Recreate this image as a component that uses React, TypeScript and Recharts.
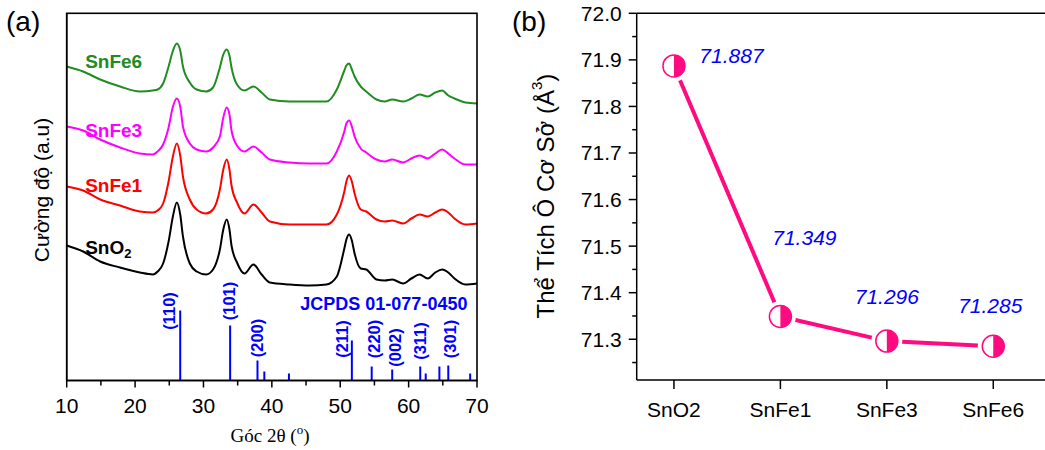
import React from 'react';
import {
  ComposedChart,
  LineChart,
  Line,
  XAxis,
  YAxis,
  ReferenceLine,
  ReferenceDot,
  LabelList,
} from 'recharts';

// ---------- Panel (a): XRD patterns ----------
const twoTheta = [10.0, 12.4, 14.9, 17.8, 20.7, 22.6, 23.3, 24.1, 24.9, 25.5, 26.1, 26.6, 27.0, 28.0, 29.0, 30.4, 31.4, 32.4, 32.9, 33.4, 33.8, 34.1, 34.9, 36.0, 37.3, 38.5, 39.7, 42.6, 45.5, 48.0, 49.5, 50.6, 50.9, 51.3, 51.7, 52.1, 53.0, 53.8, 55.3, 56.5, 57.6, 59.2, 60.4, 61.6, 62.8, 63.9, 64.9, 65.8, 66.7, 68.3, 70.0];
const intSnO2 = [135, 129, 119, 113, 108, 106, 109, 117, 139, 163, 178, 166, 144, 117, 109, 106, 111, 131, 151, 161, 151, 135, 118, 107, 116, 106, 98, 96, 95, 96, 104, 132, 141, 146, 140, 127, 112, 111, 101, 100, 101, 97, 102, 106, 102, 108, 111, 108, 102, 96, 97];
const intSnFe1 = [194, 190, 181, 175, 169, 168, 170, 177, 199, 223, 237, 225, 204, 181, 171, 167, 171, 191, 211, 221, 211, 195, 178, 167, 176, 168, 159, 156, 156, 156, 166, 189, 199, 205, 199, 187, 171, 169, 161, 159, 160, 157, 162, 166, 164, 168, 171, 168, 162, 156, 157];
const intSnFe3 = [254, 250, 241, 233, 227, 226, 229, 236, 253, 273, 282, 274, 254, 237, 231, 229, 233, 244, 263, 273, 266, 250, 235, 229, 234, 228, 221, 218, 217, 217, 229, 249, 257, 260, 254, 244, 232, 228, 221, 219, 221, 218, 222, 225, 222, 227, 231, 227, 222, 216, 216];
const intSnFe6 = [314, 309, 301, 294, 289, 290, 291, 297, 314, 329, 337, 330, 314, 298, 291, 289, 293, 313, 326, 331, 325, 313, 296, 290, 294, 288, 281, 279, 279, 279, 291, 310, 315, 317, 311, 304, 294, 289, 281, 279, 281, 279, 282, 286, 284, 288, 290, 285, 282, 278, 277];

const refPos = [26.6, 33.9, 37.9, 38.9, 42.5, 51.7, 54.6, 57.6, 61.7, 62.5, 64.5, 65.8, 69.0];
const refHeight = [70, 55, 20, 9, 7, 40, 14, 11, 14, 7, 14, 15, 7];

const hklText = ['(110)', '(101)', '(200)', '(211)', '(220)', '(002)', '(311)', '(301)'];
const hklAtX = [24.95, 33.8, 37.9, 50.2, 55.0, 58.0, 61.7, 66.0];
const hklAtY = [69.5, 79.5, 42.5, 41.5, 41.5, 33, 39.5, 41.5];

const seriesKeys = ['snO2', 'snFe1', 'snFe3', 'snFe6'];
const seriesNames = ['SnO', 'SnFe1', 'SnFe3', 'SnFe6'];
const seriesColors = ['#000000', '#FF0000', '#FF00FF', '#228B22'];
const seriesNameAtX = 12.7;
const seriesNameAtY = [132.8, 195.5, 250.5, 318.8];

const xTicksA = [10, 15, 20, 25, 30, 35, 40, 45, 50, 55, 60, 65, 70];
const xDomainA = [10, 70];
const yDomainA = [0, 367.2];

// ---------- Panel (b): cell volume ----------
const samples = ['SnO2', 'SnFe1', 'SnFe3', 'SnFe6'];
const cellVolume = [71.887, 71.349, 71.296, 71.285];
const yTicksB = [71.25, 71.3, 71.35, 71.4, 71.45, 71.5, 71.55, 71.6, 71.65, 71.7, 71.75, 71.8, 71.85, 71.9, 71.95, 72.0];
const valueLabelShift = [[57.5, -10], [24, -78.5], [0, -44.7], [-3, -41]];

const FONT = '"Liberation Sans", Arial, sans-serif';
const PINK = '#FF0A80';
const BLUE = '#0000FF';
const AXIS_LINE = { stroke: '#000', strokeWidth: 1.5 };

// plot box of panel (a) (layout, matches chart margins below)
const BOX_A = { left: 66.7, top: 13.3, right: 477, bottom: 380.5 };

const xrdRows = twoTheta.map((t, i) => ({
  t,
  snO2: intSnO2[i],
  snFe1: intSnFe1[i],
  snFe3: intSnFe3[i],
  snFe6: intSnFe6[i],
}));

const volRows = samples.map((s, i) => ({ i, name: s, v: cellVolume[i] }));

const XTickA = (props: any) => {
  const { x, y, payload } = props;
  const major = payload.value % 10 === 0;
  return (
    <g>
      <line x1={x} y1={y} x2={x} y2={y + (major ? 7 : 5)} stroke="#000" strokeWidth={1.5} />
      {major && (
        <text x={x} y={y + 32.5} textAnchor="middle" fontSize={21} fontFamily={FONT} fill="#000">
          {payload.value}
        </text>
      )}
    </g>
  );
};

const XTickB = (props: any) => {
  const { x, y, payload } = props;
  return (
    <g>
      <line x1={x} y1={y} x2={x} y2={y + 9} stroke="#000" strokeWidth={1.5} />
      <text x={x} y={y + 36.5} textAnchor="middle" fontSize={21} fontFamily={FONT} fill="#000">
        {samples[payload.value]}
      </text>
    </g>
  );
};

const YTickB = (props: any) => {
  const { x, y, payload } = props;
  const v = payload.value as number;
  const major = Math.round(v * 100) % 10 === 0;
  return (
    <g>
      <line x1={x} y1={y} x2={x - (major ? 8 : 4.5)} y2={y} stroke="#000" strokeWidth={1.5} />
      {major && (
        <text x={x - 15} y={y + 7.5} textAnchor="end" fontSize={21} fontFamily={FONT} fill="#000">
          {v.toFixed(1)}
        </text>
      )}
    </g>
  );
};

const HalfDot = (props: any) => {
  const { cx, cy } = props;
  if (cx == null || cy == null) return null;
  const r = 11;
  return (
    <g>
      <circle cx={cx} cy={cy} r={15.5} fill="#fff" />
      <circle cx={cx} cy={cy} r={r} fill="#fff" stroke={PINK} strokeWidth={1.5} />
      <path d={`M ${cx} ${cy - r} A ${r} ${r} 0 0 1 ${cx} ${cy + r} Z`} fill={PINK} />
    </g>
  );
};

export default function App() {
  return (
    <div
      style={{
        position: 'fixed',
        left: 0,
        top: 0,
        width: 1045,
        height: 450,
        overflow: 'hidden',
        background: '#fff',
        fontFamily: FONT,
      }}
    >
      <div style={{ position: 'absolute', left: 0, top: 0 }}>
        <ComposedChart
          width={500}
          height={450}
          data={xrdRows}
          margin={{ top: BOX_A.top, right: 500 - BOX_A.right, bottom: 450 - BOX_A.bottom - 40, left: BOX_A.left - 30 }}
        >
          <XAxis
            dataKey="t"
            type="number"
            domain={xDomainA}
            ticks={xTicksA}
            interval={0}
            height={40}
            tickSize={0}
            tickMargin={0}
            tickLine={false}
            axisLine={AXIS_LINE}
            tick={<XTickA />}
            allowDataOverflow
          />
          <YAxis
            type="number"
            domain={yDomainA}
            width={30}
            tick={false}
            tickLine={false}
            axisLine={AXIS_LINE}
            allowDataOverflow
          />
          {refPos.map((p, i) => (
            <ReferenceLine
              key={'s' + i}
              segment={[{ x: p, y: 0 }, { x: p, y: refHeight[i] }]}
              stroke={BLUE}
              strokeWidth={2}
              ifOverflow="visible"
            />
          ))}
          {hklText.map((h, i) => (
            <ReferenceDot
              key={'h' + i}
              x={hklAtX[i]}
              y={hklAtY[i]}
              r={0}
              shape={(p: any) => (
                <text
                  x={p.cx}
                  y={p.cy}
                  transform={`rotate(-90 ${p.cx} ${p.cy})`}
                  textAnchor="middle"
                  dominantBaseline="central"
                  fontSize={16.5}
                  fontWeight="bold"
                  fontFamily={FONT}
                  fill={BLUE}
                >
                  {h}
                </text>
              )}
            />
          ))}
          <ReferenceDot
            x={68.6}
            y={77}
            r={0}
            shape={(p: any) => (
              <text
                x={p.cx}
                y={p.cy}
                textAnchor="end"
                dominantBaseline="central"
                fontSize={18}
                fontWeight="bold"
                fontFamily={FONT}
                fill={BLUE}
              >
                JCPDS 01-077-0450
              </text>
            )}
          />
          {seriesKeys.map((k, i) => (
            <Line
              key={k}
              dataKey={k}
              type="monotone"
              stroke={seriesColors[i]}
              strokeWidth={2}
              dot={false}
              activeDot={false}
              isAnimationActive={false}
            />
          ))}
          {seriesNames.map((n, i) => (
            <ReferenceDot
              key={'n' + i}
              x={seriesNameAtX}
              y={seriesNameAtY[i]}
              r={0}
              shape={(p: any) => (
                <text
                  x={p.cx}
                  y={p.cy}
                  dominantBaseline="central"
                  fontSize={19}
                  fontWeight="bold"
                  fontFamily={FONT}
                  fill={seriesColors[i]}
                >
                  {n}
                  {i === 0 && (
                    <tspan fontSize={13} dy={5}>
                      2
                    </tspan>
                  )}
                </text>
              )}
            />
          ))}
        </ComposedChart>
      </div>

      <div style={{ position: 'absolute', left: 520, top: 0 }}>
        <LineChart
          width={540}
          height={450}
          data={volRows}
          margin={{ top: 13.3, right: 13.5, bottom: 20, left: 56.7 }}
        >
          <XAxis
            dataKey="i"
            type="number"
            domain={[-0.35, 3.5]}
            ticks={[0, 1, 2, 3]}
            interval={0}
            height={50}
            tickSize={0}
            tickMargin={0}
            tickLine={false}
            axisLine={AXIS_LINE}
            tick={<XTickB />}
            allowDataOverflow
          />
          <YAxis
            type="number"
            domain={[71.2125, 72.0]}
            ticks={yTicksB}
            interval={0}
            width={60}
            tickSize={0}
            tickMargin={0}
            tickLine={false}
            axisLine={AXIS_LINE}
            tick={<YTickB />}
            allowDataOverflow
          />
          <ReferenceLine y={72} stroke="#000" strokeWidth={1.5} ifOverflow="visible" />
          <Line
            dataKey="v"
            type="linear"
            stroke={PINK}
            strokeWidth={4}
            dot={<HalfDot />}
            activeDot={false}
            isAnimationActive={false}
          >
            <LabelList
              dataKey="v"
              content={(p: any) => {
                const { x, y, index, value } = p;
                const s = valueLabelShift[index] || [0, -30];
                return (
                  <text
                    x={x + s[0]}
                    y={y + s[1]}
                    textAnchor="middle"
                    dominantBaseline="central"
                    fontSize={21}
                    fontStyle="italic"
                    fontFamily={FONT}
                    fill={BLUE}
                  >
                    {Number(value).toFixed(3)}
                  </text>
                );
              }}
            />
          </Line>
        </LineChart>
      </div>

      <svg
        width={1045}
        height={450}
        style={{ position: 'absolute', left: 0, top: 0, pointerEvents: 'none' }}
      >
        <rect
          x={BOX_A.left}
          y={BOX_A.top}
          width={BOX_A.right - BOX_A.left}
          height={BOX_A.bottom - BOX_A.top}
          fill="none"
          stroke="#000"
          strokeWidth={1.6}
        />
        <text x={6} y={31} fontSize={28} fontFamily={FONT} fill="#000">(a)</text>
        <text x={512} y={31} fontSize={28} fontFamily={FONT} fill="#000">(b)</text>
        <text
          x={41}
          y={190}
          transform="rotate(-90 41 190)"
          textAnchor="middle"
          dominantBaseline="central"
          fontSize={21}
          fontFamily={FONT}
          fill="#000"
        >
          Cường độ (a.u)
        </text>
        <text
          x={270}
          y={442}
          textAnchor="middle"
          fontSize={19}
          fontFamily={'"Liberation Serif", "Times New Roman", serif'}
          fill="#000"
        >
          Góc 2θ (<tspan fontSize={13} dy={-8}>o</tspan><tspan dy={8}>)</tspan>
        </text>
        <text
          x={545}
          y={196}
          transform="rotate(-90 545 196)"
          textAnchor="middle"
          dominantBaseline="central"
          fontSize={24}
          fontFamily={FONT}
          fill="#000"
        >
          Thể Tích Ô Cơ Sở (Å<tspan fontSize={15} dy={-9}>3</tspan><tspan dy={9}>)</tspan>
        </text>
      </svg>
    </div>
  );
}
